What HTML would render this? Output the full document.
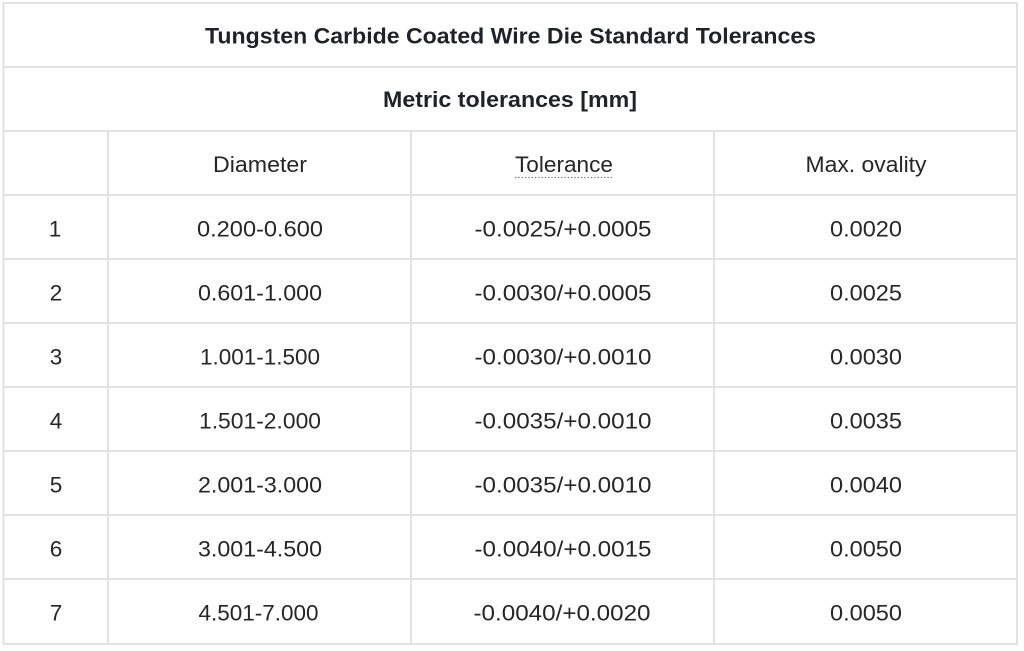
<!DOCTYPE html>
<html>
<head>
<meta charset="utf-8">
<style>
  html,body{margin:0;padding:0;background:#fff;}
  body{width:1024px;height:651px;overflow:hidden;}
  svg{display:block;}
  .b{font-family:"Liberation Sans",Arial,sans-serif;font-weight:bold;font-size:22.5px;fill:#1f2328;}
  .t{font-family:"Liberation Sans",Arial,sans-serif;font-size:22.5px;fill:#262626;}
</style>
</head>
<body>
<svg width="1024" height="651" viewBox="0 0 1024 651" xmlns="http://www.w3.org/2000/svg">
  <rect x="0" y="0" width="1024" height="651" fill="#fff"/>
  <g stroke="#e2e2e2" stroke-width="2" fill="none">
    <rect x="3.5" y="3" width="1013.5" height="641"/>
    <line x1="3.5" y1="67" x2="1017" y2="67"/>
    <line x1="3.5" y1="131" x2="1017" y2="131"/>
    <line x1="3.5" y1="195" x2="1017" y2="195"/>
    <line x1="3.5" y1="259" x2="1017" y2="259"/>
    <line x1="3.5" y1="323" x2="1017" y2="323"/>
    <line x1="3.5" y1="387" x2="1017" y2="387"/>
    <line x1="3.5" y1="451" x2="1017" y2="451"/>
    <line x1="3.5" y1="515" x2="1017" y2="515"/>
    <line x1="3.5" y1="579" x2="1017" y2="579"/>
    <line x1="108" y1="131" x2="108" y2="644"/>
    <line x1="411" y1="131" x2="411" y2="644"/>
    <line x1="714" y1="131" x2="714" y2="644"/>
  </g>

  <text class="b" x="510.5" y="43.5" text-anchor="middle" textLength="611" lengthAdjust="spacingAndGlyphs">Tungsten Carbide Coated Wire Die Standard Tolerances</text>
  <text class="b" x="510" y="107" text-anchor="middle" textLength="254" lengthAdjust="spacingAndGlyphs">Metric tolerances [mm]</text>

  <text class="t" x="260" y="172" text-anchor="middle" textLength="94" lengthAdjust="spacingAndGlyphs">Diameter</text>
  <text class="t" x="564" y="172" text-anchor="middle" textLength="98" lengthAdjust="spacingAndGlyphs">Tolerance</text>
  <line x1="515" y1="177.5" x2="613" y2="177.5" stroke="#7a7a7a" stroke-width="1.3" stroke-dasharray="1.4 1.9"/>
  <text class="t" x="866" y="172" text-anchor="middle" textLength="121" lengthAdjust="spacingAndGlyphs">Max. ovality</text>

  <g class="t" text-anchor="middle">
    <text x="55" y="236.5">1</text>
    <text x="260" y="236.5" textLength="126" lengthAdjust="spacingAndGlyphs">0.200-0.600</text>
    <text x="563" y="236.5" textLength="177" lengthAdjust="spacingAndGlyphs">-0.0025/+0.0005</text>
    <text x="866" y="236.5" textLength="72" lengthAdjust="spacingAndGlyphs">0.0020</text>

    <text x="56" y="300.5">2</text>
    <text x="260" y="300.5" textLength="124" lengthAdjust="spacingAndGlyphs">0.601-1.000</text>
    <text x="563" y="300.5" textLength="177" lengthAdjust="spacingAndGlyphs">-0.0030/+0.0005</text>
    <text x="866" y="300.5" textLength="72" lengthAdjust="spacingAndGlyphs">0.0025</text>

    <text x="56" y="364.5">3</text>
    <text x="260" y="364.5" textLength="120" lengthAdjust="spacingAndGlyphs">1.001-1.500</text>
    <text x="563" y="364.5" textLength="177" lengthAdjust="spacingAndGlyphs">-0.0030/+0.0010</text>
    <text x="866" y="364.5" textLength="72" lengthAdjust="spacingAndGlyphs">0.0030</text>

    <text x="56" y="428.5">4</text>
    <text x="260" y="428.5" textLength="122" lengthAdjust="spacingAndGlyphs">1.501-2.000</text>
    <text x="563" y="428.5" textLength="177" lengthAdjust="spacingAndGlyphs">-0.0035/+0.0010</text>
    <text x="866" y="428.5" textLength="72" lengthAdjust="spacingAndGlyphs">0.0035</text>

    <text x="56" y="492.5">5</text>
    <text x="260" y="492.5" textLength="124" lengthAdjust="spacingAndGlyphs">2.001-3.000</text>
    <text x="563" y="492.5" textLength="177" lengthAdjust="spacingAndGlyphs">-0.0035/+0.0010</text>
    <text x="866" y="492.5" textLength="72" lengthAdjust="spacingAndGlyphs">0.0040</text>

    <text x="56" y="556.5">6</text>
    <text x="260" y="556.5" textLength="124" lengthAdjust="spacingAndGlyphs">3.001-4.500</text>
    <text x="563" y="556.5" textLength="177" lengthAdjust="spacingAndGlyphs">-0.0040/+0.0015</text>
    <text x="866" y="556.5" textLength="72" lengthAdjust="spacingAndGlyphs">0.0050</text>

    <text x="56" y="620.5">7</text>
    <text x="258.5" y="620.5" textLength="120" lengthAdjust="spacingAndGlyphs">4.501-7.000</text>
    <text x="562" y="620.5" textLength="177" lengthAdjust="spacingAndGlyphs">-0.0040/+0.0020</text>
    <text x="866" y="620.5" textLength="72" lengthAdjust="spacingAndGlyphs">0.0050</text>
  </g>
</svg>
</body>
</html>
